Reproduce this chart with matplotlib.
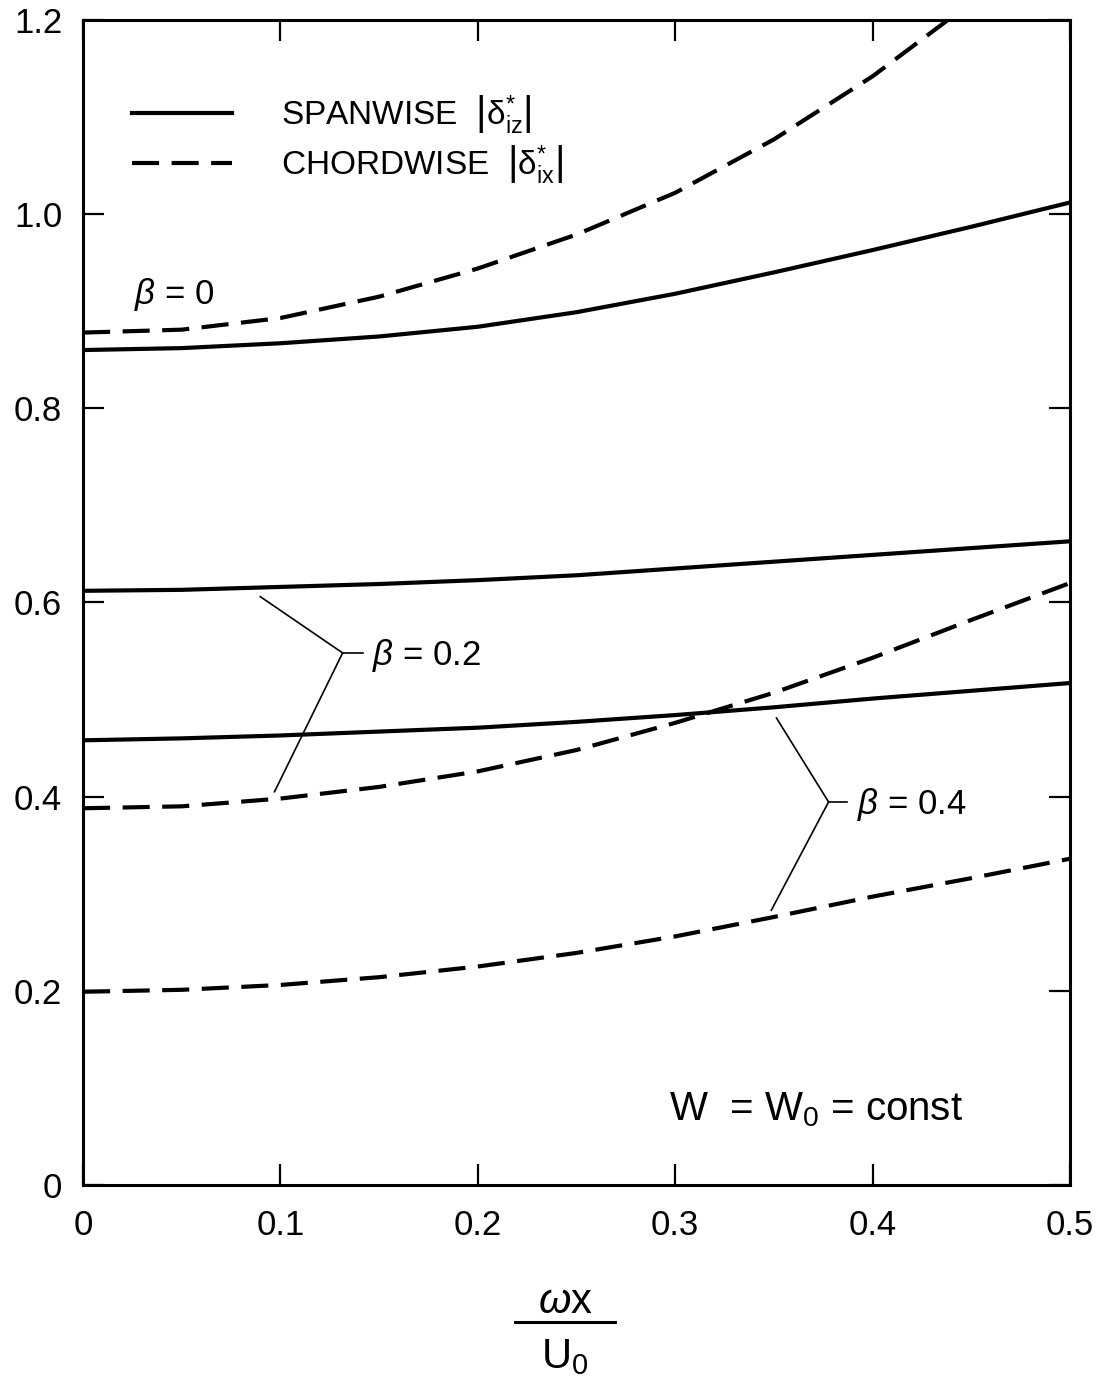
import matplotlib
matplotlib.use("Agg")
import matplotlib.pyplot as plt
from matplotlib.lines import Line2D

plt.rcParams["font.family"] = ["Liberation Sans", "DejaVu Sans"]
plt.rcParams["mathtext.fontset"] = "custom"
plt.rcParams["mathtext.rm"] = "Liberation Sans"
plt.rcParams["mathtext.it"] = "Liberation Sans:italic"
plt.rcParams["mathtext.bf"] = "Liberation Sans:bold"

# ---- data: boundary-layer displacement thickness vs. omega x / U0 ----
omega_x = [0.00, 0.05, 0.10, 0.15, 0.20, 0.25, 0.30, 0.35, 0.40, 0.45, 0.50]

span_b00 = [0.860, 0.862, 0.867, 0.874, 0.884, 0.899, 0.918, 0.940, 0.963, 0.987, 1.012]
chord_b00 = [0.878, 0.881, 0.893, 0.915, 0.944, 0.979, 1.022, 1.077, 1.142, 1.218]
span_b02 = [0.612, 0.613, 0.616, 0.619, 0.623, 0.628, 0.635, 0.642, 0.649, 0.656, 0.663]
chord_b02 = [0.388, 0.390, 0.398, 0.410, 0.426, 0.448, 0.476, 0.507, 0.543, 0.582, 0.620]
span_b04 = [0.458, 0.460, 0.463, 0.467, 0.471, 0.477, 0.484, 0.492, 0.501, 0.509, 0.517]
chord_b04 = [0.199, 0.201, 0.206, 0.214, 0.225, 0.239, 0.256, 0.276, 0.297, 0.316, 0.336]

x_ticks = [0, 0.1, 0.2, 0.3, 0.4, 0.5]
x_tick_labels = ["0", "0.1", "0.2", "0.3", "0.4", "0.5"]
y_ticks = [0, 0.2, 0.4, 0.6, 0.8, 1.0, 1.2]
y_tick_labels = ["0", "0.2", "0.4", "0.6", "0.8", "1.0", "1.2"]

# ---- figure ----
fig = plt.figure(figsize=(11, 13.88), dpi=100)
ax = fig.add_axes([0.0755, 0.1463, 0.8972, 0.8393])

LW = 3.0
DASH = (6.5, 3.0)

l_span, = ax.plot(omega_x, span_b00, color="black", lw=LW, solid_joinstyle="round")
l_chord, = ax.plot(omega_x[:len(chord_b00)], chord_b00, color="black", lw=LW,
                   dashes=DASH, dash_capstyle="butt")
ax.plot(omega_x, span_b02, color="black", lw=LW, solid_joinstyle="round")
ax.plot(omega_x, chord_b02, color="black", lw=LW, dashes=DASH, dash_capstyle="butt")
ax.plot(omega_x, span_b04, color="black", lw=LW, solid_joinstyle="round")
ax.plot(omega_x, chord_b04, color="black", lw=LW, dashes=DASH, dash_capstyle="butt")

ax.set_xlim(0, 0.5)
ax.set_ylim(0, 1.2)

ax.set_xticks(x_ticks)
ax.set_xticklabels(x_tick_labels)
ax.set_yticks(y_ticks)
ax.set_yticklabels(y_tick_labels)
ax.tick_params(axis="both", direction="in", length=15, width=1.6,
               top=True, right=True, labelsize=25, color="black")
ax.tick_params(axis="x", pad=17)
ax.tick_params(axis="y", pad=15)
for sp in ax.spines.values():
    sp.set_linewidth(2.2)

# legend
leg = ax.legend([l_span, l_chord],
                [r"SPANWISE  $\left|\mathrm{\delta^{*}_{iz}}\right|$",
                 r"CHORDWISE  $\left|\mathrm{\delta^{*}_{ix}}\right|$"],
                loc="center left", bbox_to_anchor=(0.05, 0.897),
                frameon=False, fontsize=24, handlelength=3.0, handletextpad=1.45,
                labelspacing=0.2, borderpad=0, borderaxespad=0)

# curve labels
ax.text(0.026, 0.917, r"$\beta$ = 0", fontsize=25, va="center", ha="left")

# bracket for beta = 0.2
brk_kw = dict(color="black", lw=1.2)
ax.plot([0.0898, 0.1315, 0.0970], [0.606, 0.548, 0.405], **brk_kw)
ax.plot([0.1315, 0.142], [0.548, 0.548], **brk_kw)
ax.text(0.1465, 0.545, r"$\beta$ = 0.2", fontsize=25, va="center", ha="left")

# bracket for beta = 0.4
ax.plot([0.3513, 0.3777, 0.3487], [0.481, 0.3945, 0.283], **brk_kw)
ax.plot([0.3777, 0.3868], [0.3945, 0.3945], **brk_kw)
ax.text(0.392, 0.392, r"$\beta$ = 0.4", fontsize=25, va="center", ha="left")

ax.text(0.297, 0.077, r"W  = W$_{0}$ = const", fontsize=29, va="center", ha="left")

# x-axis label as a stacked fraction
fx = 565 / 1100
fig.text(fx, 1 - 1302 / 1388, r"$\omega$x", fontsize=30, ha="center", va="center")
fig.add_artist(Line2D([515 / 1100, 615 / 1100], [1 - 1322 / 1388] * 2,
                      color="black", lw=2.2, transform=fig.transFigure))
fig.text(fx, 1 - 1357 / 1388, r"U$_{0}$", fontsize=30, ha="center", va="center")

fig.savefig("out.png", dpi=100, facecolor="white")
